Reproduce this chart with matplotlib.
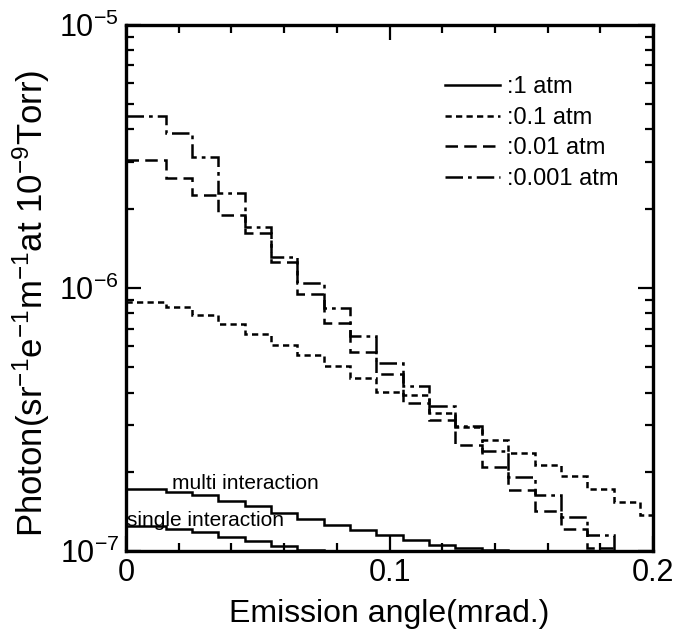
import matplotlib
matplotlib.use('Agg')
import matplotlib.pyplot as plt
from matplotlib.ticker import MultipleLocator, LogLocator, NullFormatter, FixedLocator, FixedFormatter

# histogram bin edges (mrad.)
edges = [0, 0.015, 0.025, 0.035, 0.045, 0.055, 0.065, 0.075, 0.085, 0.095, 0.105,
         0.115, 0.125, 0.135, 0.145, 0.155, 0.165, 0.175, 0.185, 0.195, 0.2]

p_001 = [4.48e-6, 3.88e-6, 3.13e-6, 2.30e-6, 1.70e-6, 1.315e-6, 1.04e-6, 8.37e-7, 6.57e-7, 5.16e-7,
         4.24e-7, 3.55e-7, 2.99e-7, 2.40e-7, 1.91e-7, 1.63e-7, 1.35e-7, 1.15e-7, 9.0e-8, 8.0e-8]
p_01 = [3.05e-6, 2.61e-6, 2.26e-6, 1.89e-6, 1.61e-6, 1.25e-6, 9.49e-7, 7.38e-7, 5.72e-7, 4.72e-7,
        3.66e-7, 3.15e-7, 2.52e-7, 2.08e-7, 1.71e-7, 1.42e-7, 1.21e-7, 1.024e-7, 8.5e-8, 7.5e-8]
p_1 = [8.86e-7, 8.44e-7, 7.89e-7, 7.28e-7, 6.68e-7, 6.07e-7, 5.56e-7, 5.05e-7, 4.56e-7, 4.03e-7,
       3.90e-7, 3.35e-7, 2.96e-7, 2.63e-7, 2.35e-7, 2.12e-7, 1.92e-7, 1.72e-7, 1.53e-7, 1.37e-7]
multi = [1.72e-7, 1.676e-7, 1.633e-7, 1.55e-7, 1.483e-7, 1.395e-7, 1.323e-7, 1.256e-7, 1.202e-7, 1.15e-7,
         1.10e-7, 1.054e-7, 1.022e-7, 1.005e-7, 9.0e-8, 9.0e-8, 9.0e-8, 9.0e-8, 9.0e-8, 9.0e-8]
single = [1.24e-7, 1.213e-7, 1.181e-7, 1.13e-7, 1.087e-7, 1.04e-7, 1.009e-7, 9.0e-8, 9.0e-8, 9.0e-8,
          9.0e-8, 9.0e-8, 9.0e-8, 9.0e-8, 9.0e-8, 9.0e-8, 9.0e-8, 9.0e-8, 9.0e-8, 9.0e-8]

x_ticks = [0, 0.1, 0.2]
x_ticklabels = ['0', '0.1', '0.2']

plt.rcParams['font.family'] = ['Liberation Sans', 'DejaVu Sans']
plt.rcParams['mathtext.fontset'] = 'custom'
plt.rcParams['mathtext.rm'] = 'Liberation Sans'
plt.rcParams['mathtext.it'] = 'Liberation Sans:italic'
plt.rcParams['xtick.direction'] = 'in'
plt.rcParams['ytick.direction'] = 'in'

fig = plt.figure(figsize=(6.74, 6.34), dpi=100)
ax = fig.add_axes([0.187, 0.131, 0.782, 0.830])

lw = 1.8
ls_001 = (0, (7, 2, 1.5, 2))
ls_01 = (0, (5, 2.5))
ls_1 = (0, (2.5, 1.7))
ax.stairs(p_001, edges, color='black', linewidth=lw, linestyle=ls_001, baseline=None)
ax.stairs(p_01, edges, color='black', linewidth=lw, linestyle=ls_01, baseline=None)
ax.stairs(p_1, edges, color='black', linewidth=lw, linestyle=ls_1, baseline=None)
ax.stairs(multi, edges, color='black', linewidth=lw, baseline=None)
ax.stairs(single, edges, color='black', linewidth=lw, baseline=None)

ax.set_yscale('log')
ax.set_xlim(0, 0.2)
ax.set_ylim(1e-7, 1e-5)

ax.xaxis.set_major_locator(FixedLocator(x_ticks))
ax.xaxis.set_major_formatter(FixedFormatter(x_ticklabels))
ax.xaxis.set_minor_locator(MultipleLocator(0.02))
ax.yaxis.set_major_locator(LogLocator(base=10, numticks=5))
ax.yaxis.set_minor_locator(LogLocator(base=10, subs=range(2, 10), numticks=20))
ax.yaxis.set_minor_formatter(NullFormatter())

ax.tick_params(which='both', top=True, right=True, width=1.6, labelsize=22)
ax.tick_params(which='major', length=11, pad=5)
ax.tick_params(which='minor', length=6)
for s in ax.spines.values():
    s.set_linewidth(2.4)

ax.set_xlabel('Emission angle(mrad.)', fontsize=23, labelpad=8)
ax.set_ylabel(r'Photon(sr$^{-1}$e$^{-1}$m$^{-1}$at 10$^{-9}$Torr)', fontsize=25)
ax.yaxis.set_label_coords(-0.14, 0.47)

# legend (drawn as proxy lines)
h1, = ax.plot([], [], color='black', linewidth=lw, label=':1 atm')
h2, = ax.plot([], [], color='black', linewidth=lw, linestyle=ls_1, label=':0.1 atm')
h3, = ax.plot([], [], color='black', linewidth=lw, linestyle=ls_01, label=':0.01 atm')
h4, = ax.plot([], [], color='black', linewidth=lw, linestyle=ls_001, label=':0.001 atm')
ax.legend(handles=[h1, h2, h3, h4], loc='upper left', bbox_to_anchor=(0.605, 0.902),
          frameon=False, fontsize=17, handlelength=2.35, handletextpad=0.3, labelspacing=0.36,
          borderpad=0, borderaxespad=0)

ax.text(0.0175, 1.72e-7, 'multi interaction', fontsize=15, va='baseline')
ax.text(0.0005, 1.24e-7, 'single interaction', fontsize=15, va='baseline')

plt.savefig('out.png', dpi=100)
